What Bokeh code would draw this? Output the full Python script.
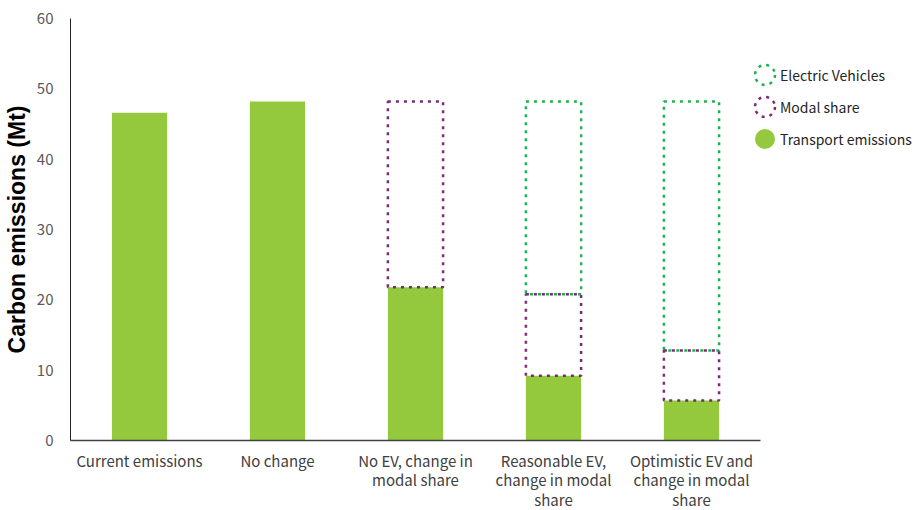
from bokeh.plotting import figure
from bokeh.models import (ColumnDataSource, FixedTicker, LinearAxis, Range1d,
                          Legend, LegendItem)
from bokeh.embed import file_html
from bokeh.resources import INLINE

categories = ["Current emissions", "No change", "No EV, change in modal share",
              "Reasonable EV, change in modal share",
              "Optimistic EV and change in modal share"]
category_labels = ["Current emissions", "No change", "No EV, change in\nmodal share",
                   "Reasonable EV,\nchange in modal\nshare",
                   "Optimistic EV and\nchange in modal\nshare"]
transport_emissions = [46.6, 48.2, 21.8, 9.2, 5.7]
modal_share = [0.0, 0.0, 26.4, 11.6, 7.1]
electric_vehicles = [0.0, 0.0, 0.0, 27.4, 35.4]
y_ticks = [0, 10, 20, 30, 40, 50, 60]

GREEN = "#95c93d"
PURPLE = "#7b2a78"
EVGREEN = "#1cb34f"
TICK_FONT = "Noto Sans CJK JP"
NAN = float("nan")

xs = list(range(len(categories)))

p = figure(frame_width=848, frame_height=422, output_backend="svg",
           toolbar_location=None,
           x_range=Range1d(-0.5, 5.645), y_range=Range1d(0, 60),
           x_axis_type=None, min_border_left=70, min_border_right=0,
           min_border_top=18, min_border_bottom=0)
p.outline_line_color = None
p.xgrid.visible = False
p.ygrid.visible = False

# transport emissions (filled)
src_t = ColumnDataSource(dict(x=xs, top=transport_emissions,
                              bottom=[0] * len(xs)))
p.vbar(x="x", top="top", bottom="bottom", width=0.4, source=src_t,
       fill_color=GREEN, line_color=None)

# stacked outline boxes
ms_x, ms_b, ms_t = [], [], []
ev_x, ev_b, ev_t = [], [], []
for i in xs:
    b = transport_emissions[i]
    if modal_share[i] > 0:
        ms_x.append(i); ms_b.append(b); ms_t.append(b + modal_share[i])
    b2 = b + modal_share[i]
    if electric_vehicles[i] > 0:
        ev_x.append(i); ev_b.append(b2); ev_t.append(b2 + electric_vehicles[i])

p.vbar(x=ev_x, top=ev_t, bottom=ev_b, width=0.4, fill_color=None,
       line_color=EVGREEN, line_width=2.5, line_dash="3 5")
p.vbar(x=ms_x, top=ms_t, bottom=ms_b, width=0.4, fill_color=None,
       line_color=PURPLE, line_width=2.5, line_dash="3 5")

# legend proxies (not drawn in the plot)
r_ev = p.ellipse(x=[NAN], y=[NAN], width=20, height=20, width_units="screen",
                 height_units="screen", fill_color=None, line_color=EVGREEN,
                 line_width=2.5, line_dash="3 5")
r_ms = p.ellipse(x=[NAN], y=[NAN], width=20, height=20, width_units="screen",
                 height_units="screen", fill_color=None, line_color=PURPLE,
                 line_width=2.5, line_dash="3 5")
r_te = p.ellipse(x=[NAN], y=[NAN], width=20, height=20, width_units="screen",
                 height_units="screen", fill_color=GREEN, line_color=None)

legend = Legend(items=[LegendItem(label="Electric Vehicles", renderers=[r_ev]),
                       LegendItem(label="Modal share", renderers=[r_ms]),
                       LegendItem(label="Transport emissions", renderers=[r_te])],
                location=(682, 289), glyph_width=25, glyph_height=25,
                spacing=7, label_standoff=3, padding=0, margin=0,
                border_line_color=None, background_fill_alpha=0,
                label_text_font=TICK_FONT, label_text_font_size="14px",
                label_text_color="#262626")
p.add_layout(legend)

# x axis
xaxis = LinearAxis(ticker=FixedTicker(ticks=xs),
                   major_label_overrides={i: category_labels[i] for i in xs},
                   bounds=(-0.5, 4.5))
xaxis.axis_line_color = "#404040"
xaxis.axis_line_width = 1.5
xaxis.major_tick_line_color = None
xaxis.minor_tick_line_color = None
xaxis.major_label_text_font = TICK_FONT
xaxis.major_label_text_font_size = "15px"
xaxis.major_label_text_color = "#404040"
xaxis.major_label_text_line_height = 0.95
xaxis.major_label_standoff = 3
p.add_layout(xaxis, "below")

# y axis
yaxis = p.yaxis[0]
yaxis.ticker = FixedTicker(ticks=y_ticks)
yaxis.axis_line_color = "#222222"
yaxis.axis_line_width = 1
yaxis.major_tick_line_color = None
yaxis.minor_tick_line_color = None
yaxis.major_label_text_font = TICK_FONT
yaxis.major_label_text_font_size = "15px"
yaxis.major_label_text_color = "#595959"
yaxis.major_label_standoff = 11
yaxis.axis_label = "Carbon emissions (Mt)"
yaxis.axis_label_text_font = "Liberation Sans"
yaxis.axis_label_text_font_style = "bold"
yaxis.axis_label_text_font_size = "23px"
yaxis.axis_label_text_color = "#000000"
yaxis.axis_label_standoff = 4

open("out.html", "w").write(file_html(p, INLINE))
